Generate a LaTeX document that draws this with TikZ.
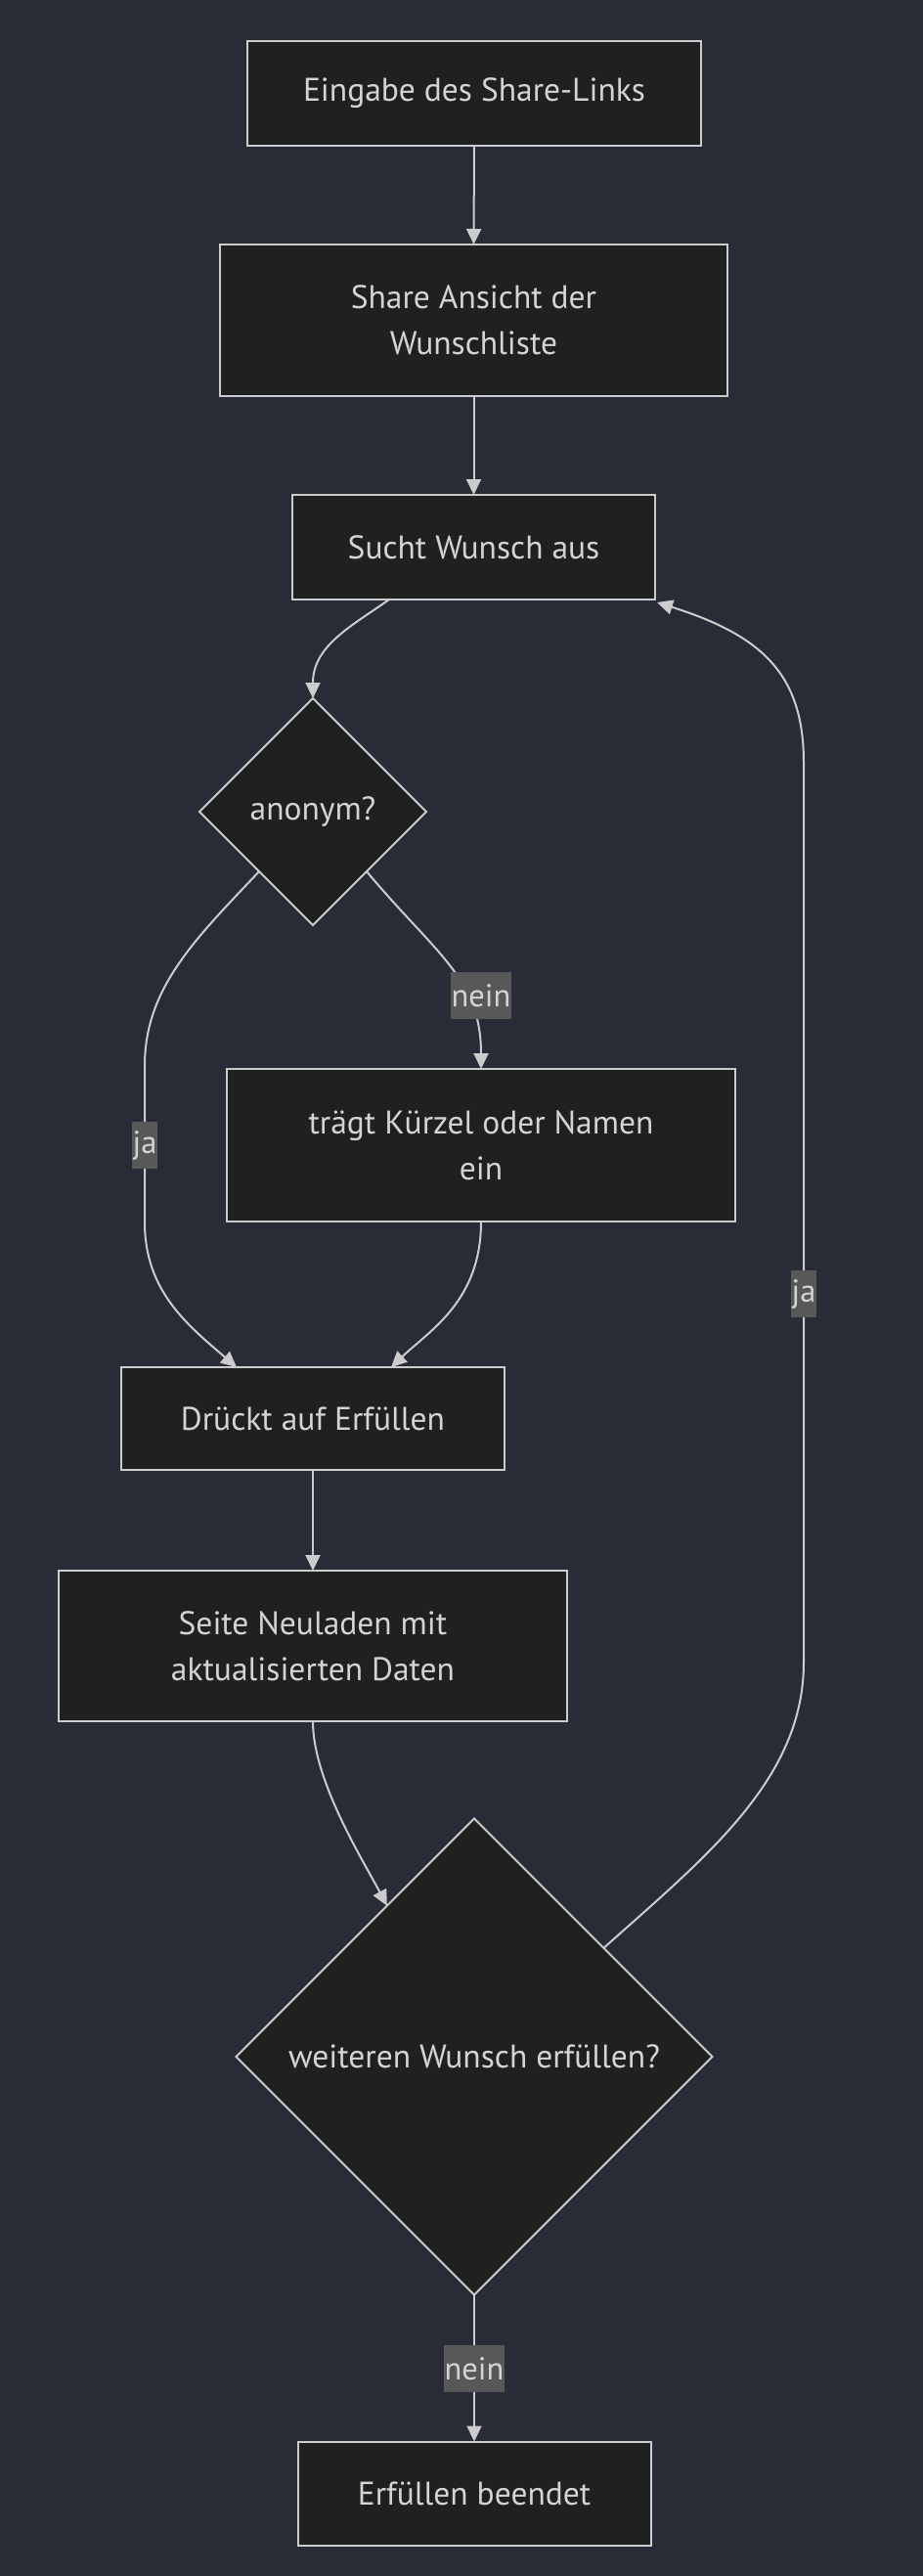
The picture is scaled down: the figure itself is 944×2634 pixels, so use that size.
\documentclass[tikz,border=0pt]{standalone}
\usepackage{fontspec}
\setmainfont{PT Sans}
\usetikzlibrary{shapes.geometric,arrows.meta}
\definecolor{bgc}{HTML}{282C36}
\definecolor{nodefill}{HTML}{1F2020}
\definecolor{strokec}{HTML}{CCCCCC}
\definecolor{lblfill}{HTML}{585858}
\definecolor{txtc}{HTML}{D4D4D4}
\begin{document}
\begin{tikzpicture}[x=1pt,y=-1pt,
  box/.style={draw=strokec,fill=nodefill,line width=2pt,text=txtc,font=\fontsize{33.5}{47}\selectfont,align=center,inner sep=0pt,outer sep=0pt},
  decision/.style={diamond,aspect=1,draw=strokec,fill=nodefill,line width=2pt,text=txtc,font=\fontsize{33.5}{47}\selectfont,inner sep=0pt,outer sep=0pt},
  edge/.style={draw=strokec,line width=2pt,-{Triangle[length=16pt,width=15pt]}},
  lbl/.style={fill=lblfill,text=txtc,font=\fontsize{32.5}{38}\selectfont,inner xsep=1pt,inner ysep=0pt,minimum height=48pt}
]
\fill[bgc] (0,0) rectangle (944,2634);
\useasboundingbox (0,0) rectangle (944,2634);

\node[box,minimum width=464pt,minimum height=107pt] (s1) at (485,95.5) {Eingabe des Share-Links};
\node[box,minimum width=519pt,minimum height=155pt] (s2) at (484.5,327.5) {Share Ansicht der\\Wunschliste};
\node[box,minimum width=371pt,minimum height=107pt] (s3) at (484.5,559.5) {Sucht Wunsch aus};
\node[decision,minimum width=232pt,minimum height=232pt] (anon) at (320,830) {anonym?};
\node[box,minimum width=520pt,minimum height=156pt] (s5) at (492,1171) {trägt Kürzel oder Namen\\ein};
\node[box,minimum width=392pt,minimum height=105pt] (s6) at (320,1450.5) {Drückt auf Erfüllen};
\node[box,minimum width=520pt,minimum height=154pt] (s7) at (320,1683) {Seite Neuladen mit\\aktualisierten Daten};
\node[decision,minimum width=487pt,minimum height=487pt] (d2) at (485,2103) {weiteren Wunsch erfüllen?};
\node[box,minimum width=361pt,minimum height=106pt] (s9) at (485,2549.5) {Erfüllen beendet};

\draw[edge] (s1.south) -- (s2.north);
\draw[edge] (s2.south) -- (s3.north);
\draw[edge] ([xshift=-86.5pt]s3.south) .. controls (360,640) and (320,660) .. (anon.north);
\draw[edge] (anon.228) .. controls (200,960) and (148,1010) .. (148,1090) -- (148,1250) .. controls (148,1320) and (192,1355) .. ([xshift=-78pt]s6.north);
\draw[edge] (anon.-48) .. controls (445,975) and (492,1000) .. (s5.north);
\draw[edge] (s5.south) .. controls (492,1330) and (440,1360) .. ([xshift=80pt]s6.north);
\draw[edge] (s6.south) -- (s7.north);
\draw[edge] (s7.south) .. controls (320,1820) and (370,1900) .. (d2.120);
\draw[edge] (d2.40) .. controls (720,1900) and (822,1820) .. (822,1700) -- (822,780) .. controls (822,690) and (780,650) .. ([xshift=2pt,yshift=-3pt]s3.south east);
\draw[edge] (d2.south) -- (s9.north);

\node[lbl] (lja1) at (148,1171) {ja};
\node[lbl] (lnein1) at (492,1018) {nein};
\node[lbl] (lja2) at (822,1323) {ja};
\node[lbl] (lnein2) at (485,2422) {nein};
\end{tikzpicture}
\end{document}
